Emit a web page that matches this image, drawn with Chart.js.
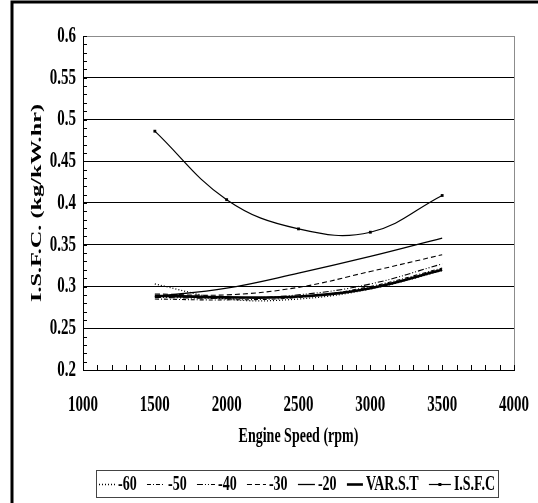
<!DOCTYPE html>
<html><head><meta charset="utf-8">
<script src="https://cdn.jsdelivr.net/npm/chart.js@4/dist/chart.umd.min.js"></script>
<style>html,body{margin:0;padding:0;background:#fff;} #wrap{width:538px;height:503px;position:relative;}</style>
</head><body><div id="wrap"><canvas id="c" width="538" height="503"></canvas></div>
<script>
const speeds = [1500, 2000, 2500, 3000, 3500];
const s60 = [0.303, 0.285, 0.285, 0.297, 0.319];
const s50 = [0.285, 0.284, 0.287, 0.300, 0.322];
const s40 = [0.287, 0.286, 0.290, 0.303, 0.327];
const s30 = [0.291, 0.290, 0.299, 0.318, 0.338];
const s20 = [0.288, 0.298, 0.316, 0.336, 0.358];
const varST = [0.289, 0.287, 0.288, 0.298, 0.320];
const isfc = [0.486, 0.404, 0.369, 0.365, 0.409];
const seriesNames = ['-60', '-50', '-40', '-30', '-20', 'VAR.S.T', 'I.S.F.C'];
const xTickLabels = ['1000', '1500', '2000', '2500', '3000', '3500', '4000'];
const yTickLabels = ['0.2', '0.25', '0.3', '0.35', '0.4', '0.45', '0.5', '0.55', '0.6'];
const xTitle = 'Engine Speed (rpm)';
const yTitle = 'I.S.F.C. (kg/kW.hr)';

const FONT = '"Liberation Serif", "Times New Roman", serif';
const styles = [
  {dash: [1, 2], w: 1.3},
  {dash: [4, 2, 1, 2], w: 1.1},
  {dash: [6, 2, 1, 2, 1, 2], w: 1.1},
  {dash: [5, 3], w: 1.1},
  {dash: [], w: 1.3},
  {dash: [], w: 2.6},
  {dash: [], w: 1.2}
];
const allSeries = [s60, s50, s40, s30, s20, varST, isfc];

const datasets = allSeries.map((arr, i) => ({
  label: seriesNames[i],
  data: speeds.map((x, j) => ({x: x, y: arr[j]})),
  borderColor: '#000',
  backgroundColor: '#000',
  borderWidth: styles[i].w,
  borderDash: styles[i].dash,
  tension: 0.4,
  fill: false,
  pointRadius: i === 6 ? 2 : 0,
  pointStyle: 'rect',
  pointBorderWidth: 0,
  pointBackgroundColor: '#000'
}));

function near(a, b) { return Math.abs(a - b) < 1e-6; }

function sText(ctx, text, x, y, align, sy, rot) {
  ctx.save();
  ctx.translate(x, y);
  if (rot) { ctx.rotate(-Math.PI / 2); ctx.scale(sy, 1); }
  else ctx.scale(1, sy);
  ctx.textAlign = align;
  ctx.textBaseline = 'middle';
  ctx.fillText(text, 0, 0);
  ctx.restore();
}

const decor = {
  id: 'decor',
  afterDraw(chart) {
    const ctx = chart.ctx;
    const xs = chart.scales.x, ys = chart.scales.y;
    const a = chart.chartArea;
    ctx.save();
    // outer frame
    ctx.strokeStyle = '#000';
    ctx.lineWidth = 3;
    ctx.setLineDash([]);
    ctx.beginPath();
    ctx.moveTo(12, 503); ctx.lineTo(12, 2); ctx.lineTo(538, 2);
    ctx.stroke();
    // right plot border
    ctx.strokeStyle = '#8c8c8c';
    ctx.lineWidth = 1;
    ctx.beginPath();
    ctx.moveTo(Math.round(a.right) + 0.5, a.top); ctx.lineTo(Math.round(a.right) + 0.5, a.bottom);
    ctx.stroke();
    // minor ticks
    ctx.strokeStyle = '#000';
    ctx.beginPath();
    for (let k = 20; k <= 60; k++) {
      const py = Math.round(ys.getPixelForValue(k / 100)) + 0.5;
      ctx.moveTo(a.left, py); ctx.lineTo(a.left + 4, py);
    }
    for (let k = 10; k <= 40; k++) {
      const px = Math.round(xs.getPixelForValue(k * 100)) + 0.5;
      ctx.moveTo(px, a.bottom); ctx.lineTo(px, a.bottom - 5);
    }
    ctx.stroke();
    // tick labels
    ctx.fillStyle = '#000';
    ctx.font = 'bold 15px ' + FONT;
    ys.ticks.forEach((t, i) => {
      sText(ctx, yTickLabels[i], a.left - 7, ys.getPixelForValue(t.value), 'right', 1.5, false);
    });
    xs.ticks.forEach((t, i) => {
      sText(ctx, xTickLabels[i], xs.getPixelForValue(t.value), a.bottom + 35, 'center', 1.5, false);
    });
    // axis titles
    ctx.font = 'bold 14px ' + FONT;
    sText(ctx, xTitle, (a.left + a.right) / 2, a.bottom + 67, 'center', 1.5, false);
    ctx.font = 'bold 15px ' + FONT;
    sText(ctx, yTitle, 37, (a.top + a.bottom) / 2, 'center', 1.62, true);
    // legend
    const L = {x1: 96, x2: 498, y1: 470, y2: 497};
    ctx.strokeStyle = '#444';
    ctx.lineWidth = 1;
    ctx.strokeRect(L.x1 + 0.5, L.y1 + 0.5, L.x2 - L.x1, L.y2 - L.y1);
    ctx.font = 'bold 14px ' + FONT;
    const sw = [16, 18, 18, 19, 17, 16, 22];
    const tw = seriesNames.map(n => ctx.measureText(n).width);
    let total = 0;
    for (let i = 0; i < 7; i++) total += sw[i] + 3 + tw[i];
    const gap = (L.x2 - L.x1 - 6 - total) / 6;
    let cx = L.x1 + 3;
    const cy = (L.y1 + L.y2) / 2 + 1;
    for (let i = 0; i < 7; i++) {
      ctx.strokeStyle = '#000';
      ctx.lineWidth = styles[i].w;
      ctx.setLineDash(styles[i].dash);
      ctx.beginPath();
      ctx.moveTo(cx, cy); ctx.lineTo(cx + sw[i], cy);
      ctx.stroke();
      ctx.setLineDash([]);
      if (i === 6) {
        ctx.fillRect(cx + sw[i] / 2 - 1.5, cy - 1.5, 3, 3);
      }
      cx += sw[i] + 3;
      sText(ctx, seriesNames[i], cx, cy, 'left', 1.5, false);
      cx += tw[i] + gap;
    }
    ctx.restore();
  }
};

new Chart(document.getElementById('c'), {
  type: 'line',
  data: {datasets: datasets},
  options: {
    responsive: false,
    animation: false,
    devicePixelRatio: 1,
    layout: {padding: {left: 0, right: 24, top: 36, bottom: 133}},
    plugins: {legend: {display: false}, tooltip: {enabled: false}, title: {display: false}},
    scales: {
      x: {
        type: 'linear', min: 1000, max: 4000,
        ticks: {stepSize: 500, display: false},
        grid: {display: false, drawTicks: false},
        border: {display: true, color: '#000', width: 1},
        afterFit: s => { s.height = 0; }
      },
      y: {
        type: 'linear', min: 0.2, max: 0.6,
        ticks: {stepSize: 0.05, display: false},
        grid: {
          drawTicks: false,
          lineWidth: 1,
          color: c => {
            if (!c.tick) return '#000';
            if (near(c.tick.value, 0.6)) return '#8c8c8c';
            if (near(c.tick.value, 0.2)) return 'rgba(0,0,0,0)';
            return '#000';
          }
        },
        border: {display: true, color: '#000', width: 1},
        afterFit: s => { s.width = 83; }
      }
    }
  },
  plugins: [decor]
});
</script>
</body></html>
